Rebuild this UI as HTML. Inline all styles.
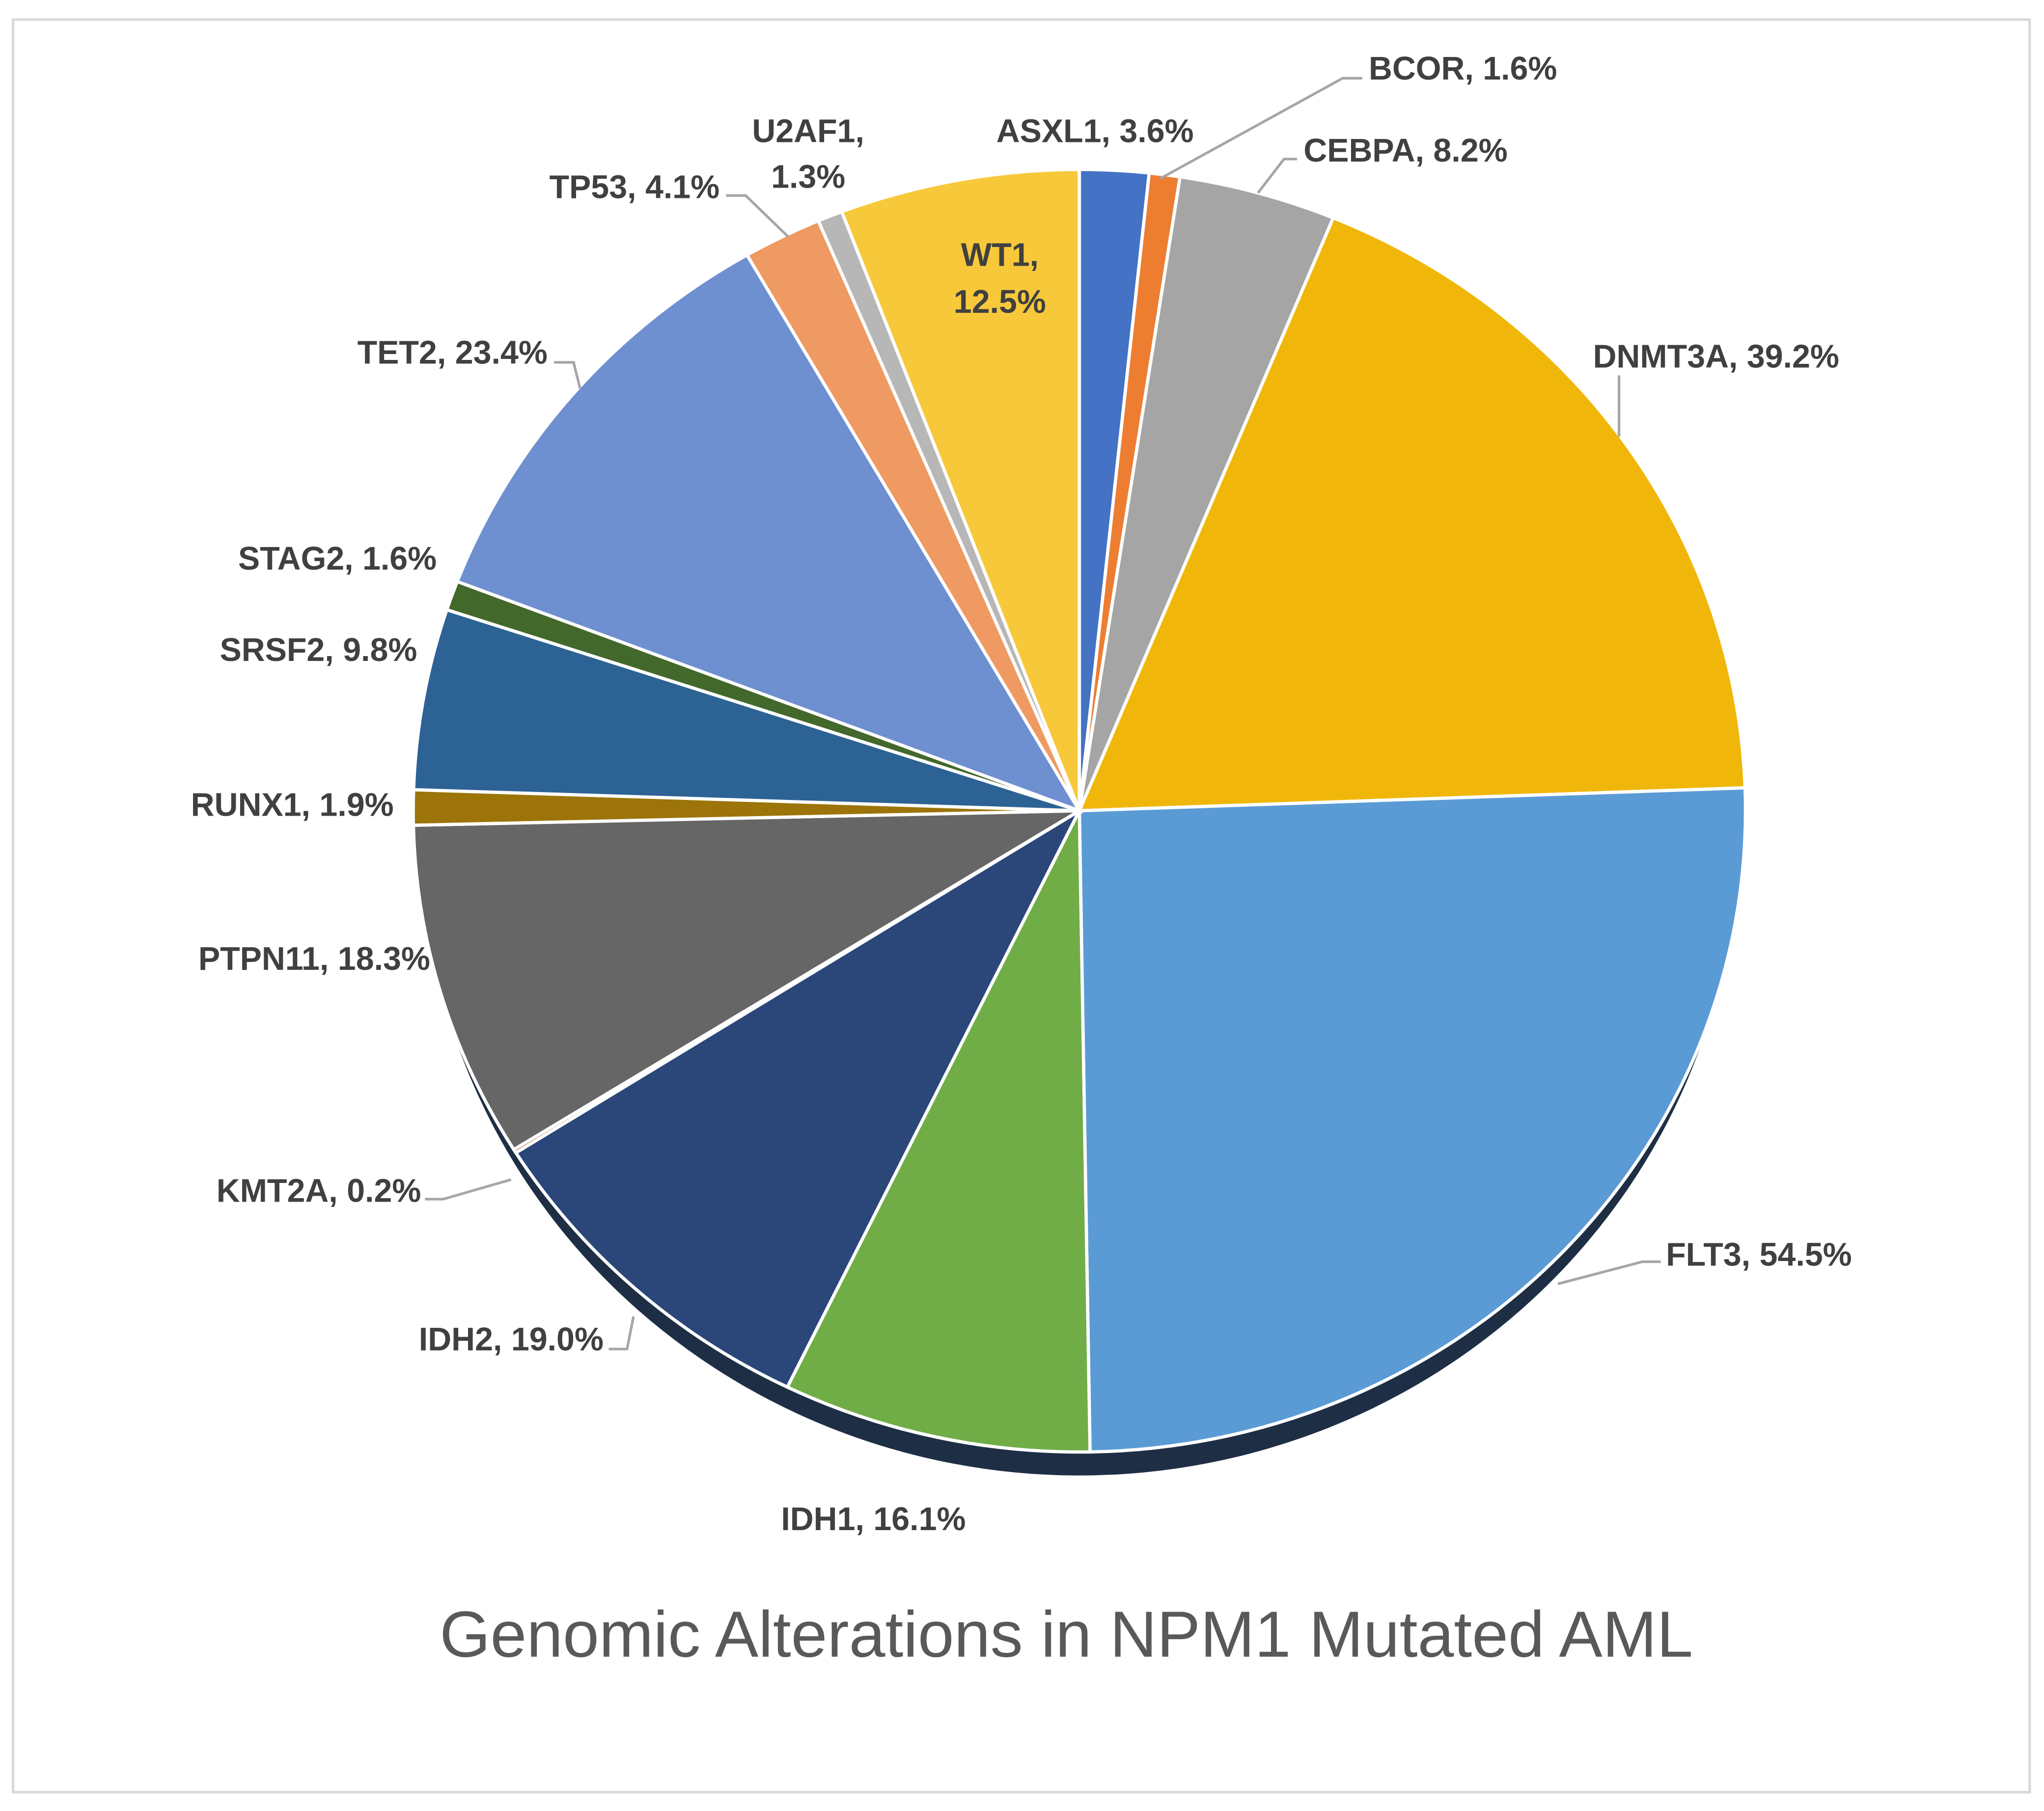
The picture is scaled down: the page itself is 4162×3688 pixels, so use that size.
<!DOCTYPE html>
<html><head><meta charset="utf-8"><style>
html,body{margin:0;padding:0;background:#fff}
svg{display:block}
text{font-family:"Liberation Sans",sans-serif}
.lbl{font-weight:bold;font-size:25px;fill:#404040}
</style></head><body>
<svg id="chart" width="4162" height="3688" viewBox="0 0 1568 1389.4" xmlns="http://www.w3.org/2000/svg">
<rect x="10" y="15" width="1547" height="1360" fill="#fff" stroke="#d9d9d9" stroke-width="2"/>
<g id="shadow"></g>
<g id="slices"></g>
<g id="leaders" stroke="#a6a6a6" stroke-width="2" fill="none">
<polyline points="890,137 1030,60 1045,60"/>
<polyline points="965,148 985,122 995,122"/>
<polyline points="1242,335 1242,288"/>
<polyline points="1195,985 1260,968 1274,968"/>
<polyline points="486,1010 481,1035 467,1035"/>
<polyline points="392,905 340,920 326,920"/>
<polyline points="445,298 440,278 425,278"/>
<polyline points="605,182 572,150 557,150"/>
</g>
<g id="labels">
<text class="lbl" x="840" y="109" text-anchor="middle">ASXL1, 3.6%</text>
<text class="lbl" x="1050" y="61">BCOR, 1.6%</text>
<text class="lbl" x="1000" y="124">CEBPA, 8.2%</text>
<text class="lbl" x="1222" y="282">DNMT3A, 39.2%</text>
<text class="lbl" x="1278" y="971">FLT3, 54.5%</text>
<text class="lbl" x="670" y="1174" text-anchor="middle">IDH1, 16.1%</text>
<text class="lbl" x="463" y="1036" text-anchor="end">IDH2, 19.0%</text>
<text class="lbl" x="323" y="922" text-anchor="end">KMT2A, 0.2%</text>
<text class="lbl" x="330" y="744" text-anchor="end">PTPN11, 18.3%</text>
<text class="lbl" x="302" y="626" text-anchor="end">RUNX1, 1.9%</text>
<text class="lbl" x="320" y="507" text-anchor="end">SRSF2, 9.8%</text>
<text class="lbl" x="335" y="437" text-anchor="end">STAG2, 1.6%</text>
<text class="lbl" x="420" y="279" text-anchor="end">TET2, 23.4%</text>
<text class="lbl" x="552" y="152" text-anchor="end">TP53, 4.1%</text>
<text class="lbl" x="620" y="109" text-anchor="middle">U2AF1,</text>
<text class="lbl" x="620" y="144" text-anchor="middle">1.3%</text>
<text class="lbl" x="767" y="204" text-anchor="middle">WT1,</text>
<text class="lbl" x="767" y="240" text-anchor="middle">12.5%</text>
</g>
<text x="818" y="1271" text-anchor="middle" font-size="50" fill="#595959">Genomic Alterations in NPM1 Mutated AML</text>
</svg>
<script>
const categories = ["ASXL1","BCOR","CEBPA","DNMT3A","FLT3","IDH1","IDH2","KMT2A","PTPN11","RUNX1","SRSF2","STAG2","TET2","TP53","U2AF1","WT1"];
const values = [3.6,1.6,8.2,39.2,54.5,16.1,19.0,0.2,18.3,1.9,9.8,1.6,23.4,4.1,1.3,12.5];
const colors = ["#4472C4","#ED7D31","#A5A5A5","#F0B70A","#5B9BD5","#70AD47","#2B4779","#9E480E","#666666","#9C7409","#2D6295","#43682B","#6E90D0","#EE9A62","#B7B7B7","#F7C93A"];
const cx=828, cy=622, rx=511, ry=492;
const ns="http://www.w3.org/2000/svg";
const total=values.reduce((a,b)=>a+b,0);
function pt(a){return [cx+rx*Math.sin(a), cy-ry*Math.cos(a)];}
const sh=document.createElementNS(ns,"ellipse");
sh.setAttribute("cx",cx);sh.setAttribute("cy",cy+18);sh.setAttribute("rx",rx-6);sh.setAttribute("ry",ry);
sh.setAttribute("fill","#1e2f45");


document.getElementById("shadow").appendChild(sh);
let a0=0;
const g=document.getElementById("slices");
values.forEach((v,i)=>{
  const a1=a0+v/total*2*Math.PI;
  const p0=pt(a0), p1=pt(a1);
  const large=(a1-a0)>Math.PI?1:0;
  const p=document.createElementNS(ns,"path");
  p.setAttribute("d",`M${cx},${cy} L${p0[0]},${p0[1]} A${rx},${ry} 0 ${large} 1 ${p1[0]},${p1[1]} Z`);
  p.setAttribute("fill",colors[i]);
  p.setAttribute("stroke","#fff");
  p.setAttribute("stroke-width","2.5");
  
  
  g.appendChild(p);
  a0=a1;
});
</script>
</body></html>
